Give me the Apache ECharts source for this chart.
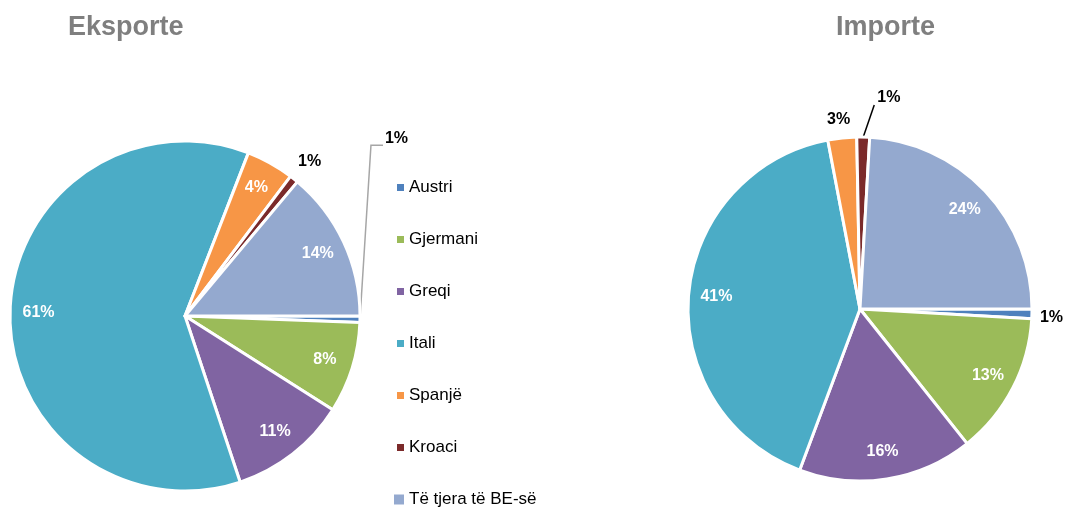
<!DOCTYPE html>
<html>
<head>
<meta charset="utf-8">
<script src="https://cdn.jsdelivr.net/npm/echarts@6/dist/echarts.min.js"></script>
<style>
  html, body { margin: 0; padding: 0; background: #fff; }
  #chart { width: 1065px; height: 510px; }
</style>
</head>
<body>
<div id="chart"></div>
<script>
const names = ['Austri', 'Gjermani', 'Greqi', 'Itali', 'Spanjë', 'Kroaci', 'Të tjera të BE-së'];
const colors = ['#4f81bd', '#9bbb59', '#8064a2', '#4bacc6', '#f79646', '#7b2a2a', '#94a9cf'];
// shares in percent
const eksporte = [0.6, 8.4, 10.9, 61.0, 4.4, 0.8, 13.9];
const importe = [0.9, 13.4, 16.4, 41.3, 2.7, 1.2, 24.1];

// small slices get a black label outside the pie
const outside = {
  eks: {
    0: { dx: 25, dy: -181, align: 'left', line: [[11, -174], [23, -174]], lineColor: '#a6a6a6' },
    5: { dx: 4, dy: -17, align: 'left' }
  },
  imp: {
    0: { dx: 8, dy: 4, align: 'left' },
    4: { dx: 8, dy: -18, align: 'right' },
    5: { dx: 14, dy: -39, align: 'left', line: [[11, -32]], lineColor: '#000' }
  }
};

const pct = p => Math.round(p.percent) + '%';
const font = 'Liberation Sans, Arial, sans-serif';

function pieData(values, cfg) {
  return values.map((v, i) => {
    const o = cfg[i];
    return {
      name: names[i],
      value: v,
      label: { show: !!o },
      labelLine: o && o.line
        ? { show: true, lineStyle: { color: o.lineColor, width: 1.5 } }
        : { show: false }
    };
  });
}

function labelData(values, cfg) {
  return values.map((v, i) => ({ name: names[i], value: v, label: { show: !cfg[i] } }));
}

function layoutFor(cfg) {
  return function (params) {
    const o = cfg[params.dataIndex];
    if (!o || !params.labelLinePoints) return {};
    const s = params.labelLinePoints[0];
    const res = {
      x: s[0] + o.dx,
      y: s[1] + o.dy,
      align: o.align,
      verticalAlign: 'middle'
    };
    if (o.line) {
      res.labelLinePoints = [s].concat(o.line.map(d => [s[0] + d[0], s[1] + d[1]]));
    }
    return res;
  };
}

function pieSeries(values, cfg, center, r) {
  return [
    {
      type: 'pie',
      center: center,
      radius: [0, r],
      startAngle: 0,
      clockwise: true,
      avoidLabelOverlap: false,
      data: pieData(values, cfg),
      itemStyle: { borderColor: '#fff', borderWidth: 3 },
      emphasis: { scale: false },
      label: {
        position: 'outside',
        formatter: pct,
        color: '#000',
        fontWeight: 'bold',
        fontSize: 16,
        fontFamily: font
      },
      labelLayout: layoutFor(cfg)
    },
    {
      // transparent ring, only used to place the white labels further out
      type: 'pie',
      center: center,
      radius: [r * 0.64, r],
      startAngle: 0,
      clockwise: true,
      silent: true,
      legendHoverLink: false,
      data: labelData(values, cfg),
      itemStyle: { color: 'transparent', borderWidth: 0 },
      labelLine: { show: false },
      label: {
        position: 'inside',
        formatter: pct,
        color: '#fff',
        fontWeight: 'bold',
        fontSize: 16,
        fontFamily: font
      }
    }
  ];
}

const chart = echarts.init(document.getElementById('chart'));
chart.setOption({
  animation: false,
  color: colors,
  title: [
    {
      text: 'Eksporte',
      left: 63,
      top: 9,
      textStyle: { color: '#7f7f7f', fontSize: 27, fontWeight: 'bold', fontFamily: font }
    },
    {
      text: 'Importe',
      left: 831,
      top: 9,
      textStyle: { color: '#7f7f7f', fontSize: 27, fontWeight: 'bold', fontFamily: font }
    }
  ],
  legend: [
    {
      orient: 'vertical',
      left: 397,
      top: 179,
      padding: 0,
      icon: 'rect',
      itemWidth: 7,
      itemHeight: 7,
      itemGap: 35,
      itemStyle: { borderWidth: 0 },
      textStyle: { color: '#000', fontSize: 17, lineHeight: 17, fontFamily: font },
      data: names.slice(0, 6)
    },
    {
      orient: 'vertical',
      left: 394,
      top: 491,
      padding: 0,
      icon: 'rect',
      itemWidth: 10,
      itemHeight: 10,
      itemStyle: { borderWidth: 0 },
      textStyle: { color: '#000', fontSize: 17, lineHeight: 17, fontFamily: font },
      data: names.slice(6)
    }
  ],
  series: pieSeries(eksporte, outside.eks, [185, 316], 175)
    .concat(pieSeries(importe, outside.imp, [860, 309], 172))
});
</script>
</body>
</html>
